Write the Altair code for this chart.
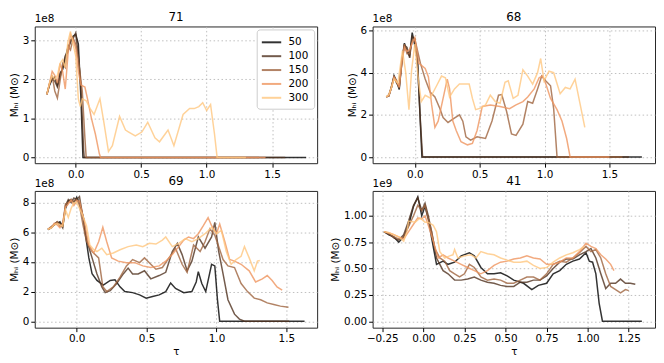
import altair as alt
import pandas as pd

SERIES = ["50", "100", "150", "200", "300"]
COLORS = ["#000000", "#50321f", "#9f643f", "#ef955f", "#ffc77f"]

# ---------------- panel 71 (units of 1e8) ----------------
E = [-0.22, -0.2, -0.18, -0.16, -0.14, -0.12, -0.1, -0.08, -0.06, -0.04, -0.02, 0.0]
t71_50 = E + [0.02, 0.04, 0.055, 1.76]
m71_50 = [1.62, 1.85, 2.0, 2.05, 1.85, 2.15, 2.25, 2.55, 2.8, 2.95, 3.1, 3.15, 2.9, 1.5, 0, 0]
t71_100 = E + [0.02, 0.04, 0.06, 0.065, 1.6]
m71_100 = [1.62, 1.88, 2.0, 1.95, 1.8, 2.05, 2.3, 2.6, 2.7, 3.0, 3.05, 3.18, 2.6, 1.8, 0.2, 0, 0]
t71_150 = E + [0.02, 0.05, 0.07, 0.08, 1.4]
m71_150 = [1.6, 1.9, 2.1, 1.7, 1.52, 1.95, 2.4, 2.3, 2.85, 2.75, 3.05, 2.9, 2.5, 1.7, 0.5, 0, 0]
t71_200 = E + [0.02, 0.04, 0.07, 0.09, 0.12, 0.15, 0.18, 0.19, 1.45]
m71_200 = [1.62, 1.9, 2.2, 2.1, 1.9, 2.4, 2.2, 1.75, 2.6, 3.15, 3.0, 2.8,
           2.2, 1.85, 1.8, 1.5, 1.0, 0.6, 0.1, 0, 0]
t71_300 = E + [0.02, 0.035, 0.05, 0.08, 0.11, 0.14, 0.185, 0.215, 0.25, 0.28,
               0.335, 0.38, 0.405, 0.455, 0.505, 0.55, 0.605, 0.64, 0.705, 0.75,
               0.82, 0.87, 0.905, 0.94, 0.97, 1.0, 1.03, 1.06, 1.08, 1.3]
m71_300 = [1.62, 1.9, 2.1, 2.0, 2.1, 2.4, 2.5, 2.3, 2.95, 3.22, 2.9, 2.6,
           1.5, 1.3, 1.5, 1.45, 1.25, 1.1, 1.5, 0.9, 0.15, 0.3,
           1.05, 0.7, 0.65, 0.55, 0.65, 0.9, 0.5, 0.4, 0.7, 0.3,
           1.1, 1.25, 1.25, 1.3, 1.4, 1.2, 1.35, 0.6, 0, 0]

# ---------------- panel 68 (units of 1e8) ----------------
t68_50 = E + [0.02, 0.04, 0.055, 1.75]
m68_50 = [2.85, 2.9, 3.3, 3.85, 3.6, 3.2, 4.5, 5.4, 5.0, 4.8, 5.9, 5.3, 4.8, 2.0, 0, 0]
t68_100 = E + [0.02, 0.045, 0.06, 1.65]
m68_100 = [2.85, 2.9, 3.35, 3.8, 3.5, 3.3, 4.6, 5.3, 5.2, 4.7, 5.7, 5.6, 4.5, 1.5, 0, 0]
t68_150 = E + [0.043, 0.08, 0.118, 0.155, 0.193, 0.218, 0.256, 0.293, 0.344, 0.37,
               0.394, 0.43, 0.48, 0.545, 0.595, 0.645, 0.67, 0.707, 0.745, 0.78,
               0.833, 0.87, 0.908, 0.946, 0.978, 1.01, 1.046, 1.07, 1.096, 1.6]
m68_150 = [2.85, 2.95, 3.3, 3.75, 3.55, 3.4, 4.4, 5.35, 4.9, 4.9, 5.5, 5.6,
           4.45, 3.7, 3.08, 2.85, 2.3, 1.87, 1.64, 1.8, 2.0, 1.7,
           0.96, 0.8, 0.96, 0.88, 1.71, 2.93, 2.96, 2.17, 1.1, 1.03,
           1.56, 2.63, 2.55, 3.23, 3.84, 3.61, 3.38, 2.3, 0, 0]
t68_200 = E + [0.03, 0.08, 0.105, 0.13, 0.155, 0.18, 0.218, 0.25, 0.268, 0.293,
               0.319, 0.356, 0.406, 0.444, 0.48, 0.52, 0.582, 0.657, 0.73, 0.78,
               0.833, 0.87, 0.92, 0.958, 0.983, 1.01, 1.046, 1.096, 1.134, 1.17,
               1.197, 1.5]
m68_200 = [2.85, 2.9, 3.3, 3.8, 3.6, 3.3, 4.5, 5.2, 5.0, 5.1, 5.4, 5.66,
           4.45, 4.2, 3.8, 2.47, 1.41, 1.7, 2.78, 3.69, 3.23, 1.71,
           1.26, 0.73, 0.58, 0.65, 1.26, 2.4, 2.47, 2.4, 2.29, 2.47,
           2.63, 2.85, 3.23, 3.76, 3.84, 3.46, 2.78, 2.25, 1.71, 0.88,
           0, 0]
t68_300 = [-0.22, -0.2, -0.18, -0.16, -0.13, -0.095, -0.07, -0.045, -0.025, 0.0,
           0.03, 0.05, 0.08, 0.118, 0.168, 0.206, 0.236, 0.268, 0.306, 0.344,
           0.419, 0.444, 0.469, 0.507, 0.545, 0.582, 0.62, 0.657, 0.695, 0.72,
           0.758, 0.795, 0.833, 0.87, 0.908, 0.946, 0.97, 0.996, 1.034, 1.07,
           1.12, 1.16, 1.197, 1.235, 1.27, 1.31]
m68_300 = [2.85, 2.95, 3.3, 3.7, 3.5, 5.05, 4.0, 2.25, 4.1, 5.36,
           3.54, 2.63, 2.93, 2.8, 3.38, 3.84, 3.76, 2.85, 3.23, 3.46,
           3.46, 2.78, 2.25, 2.32, 2.47, 2.93, 2.63, 2.55, 3.54, 3.61,
           2.78, 2.93, 4.14, 3.84, 3.46, 4.0, 4.67, 3.61, 4.07, 4.0,
           3.0, 3.3, 3.23, 3.69, 2.63, 1.41]

# ---------------- panel 69 (units of 1e8) ----------------
E69 = [-0.206, -0.18, -0.16, -0.14, -0.12, -0.1, -0.08, -0.06, -0.04, -0.02, 0.0, 0.02]
t69_50 = E69 + [0.05, 0.063, 0.087, 0.11, 0.145, 0.19, 0.24, 0.274, 0.31, 0.344,
                0.4, 0.45, 0.497, 0.543, 0.59, 0.637, 0.672, 0.707, 0.766, 0.824,
                0.855, 0.87, 0.895, 0.923, 0.965, 0.988, 1.007, 1.023, 1.63]
m69_50 = [6.18, 6.3, 6.5, 6.6, 6.7, 6.4, 7.6, 8.1, 8.2, 8.0, 8.35, 8.0,
          6.9, 5.8, 4.27, 3.2, 2.75, 2.43, 2.75, 2.8, 2.32, 2.0,
          1.93, 1.78, 1.56, 1.67, 1.78, 2.0, 2.58, 2.21, 1.93, 2.0,
          2.65, 3.34, 2.54, 2.0, 3.84, 3.73, 1.45, 0, 0]
t69_100 = E69 + [0.05, 0.075, 0.11, 0.145, 0.18, 0.204, 0.24, 0.286, 0.333, 0.368,
                 0.4, 0.44, 0.485, 0.53, 0.59, 0.637, 0.684, 0.72, 0.754, 0.79,
                 0.824, 0.87, 0.918, 0.965, 0.988, 1.016, 1.047, 1.082, 1.129, 1.164,
                 1.2, 1.52]
m69_100 = [6.18, 6.35, 6.55, 6.7, 6.6, 6.3, 7.8, 8.2, 8.0, 8.3, 8.2, 8.4,
           6.7, 5.36, 4.27, 3.19, 2.32, 1.93, 2.06, 2.54, 3.19, 3.58,
           3.19, 3.19, 3.4, 2.86, 3.08, 3.3, 4.7, 5.25, 4.49, 3.4,
           4.05, 5.68, 4.92, 5.68, 6.66, 4.7, 3.19, 1.45, 0.48, 0.15,
           0, 0]
t69_150 = E69 + [0.045, 0.07, 0.11, 0.157, 0.187, 0.215, 0.262, 0.31, 0.356, 0.4,
                 0.45, 0.485, 0.53, 0.567, 0.613, 0.66, 0.707, 0.754, 0.79, 0.836,
                 0.883, 0.918, 0.953, 0.988, 1.012, 1.047, 1.082, 1.129, 1.176, 1.222,
                 1.27, 1.316, 1.363, 1.41, 1.457, 1.515]
m69_150 = [6.2, 6.4, 6.5, 6.7, 6.4, 6.5, 7.9, 8.0, 8.1, 8.1, 8.2, 7.8,
           6.5, 5.4, 4.7, 4.27, 2.32, 2.0, 2.32, 2.97, 3.73, 4.16,
           3.95, 4.27, 3.84, 3.51, 3.62, 4.27, 4.92, 3.84, 3.3, 5.14,
           4.7, 5.36, 6.23, 5.79, 5.14, 4.16, 3.73, 3.62, 2.54, 2.0,
           1.56, 1.45, 1.24, 1.13, 1.02, 0.95]
t69_200 = E69 + [0.05, 0.087, 0.122, 0.157, 0.187, 0.215, 0.25, 0.297, 0.356, 0.415,
                 0.473, 0.53, 0.59, 0.637, 0.684, 0.73, 0.766, 0.8, 0.836, 0.87,
                 0.906, 0.94, 0.965, 1.0, 1.023, 1.06, 1.094, 1.129, 1.176, 1.234,
                 1.28, 1.328, 1.363, 1.398, 1.433, 1.47]
m69_200 = [6.2, 6.3, 6.6, 6.5, 6.3, 6.6, 7.7, 7.9, 8.2, 7.8, 8.1, 8.1,
           6.9, 5.14, 4.6, 5.36, 6.33, 5.36, 4.27, 4.05, 3.95, 3.95,
           3.73, 3.62, 3.73, 4.05, 4.49, 5.03, 5.47, 5.68, 5.57, 5.9,
           6.44, 6.98, 6.44, 5.9, 6.55, 5.36, 4.16, 4.05, 3.84, 3.4,
           2.65, 2.86, 3.08, 2.75, 2.32, 2.1]
t69_300 = E69 + [0.04, 0.07, 0.094, 0.122, 0.145, 0.18, 0.215, 0.262, 0.31, 0.368,
                 0.426, 0.473, 0.52, 0.567, 0.613, 0.637, 0.684, 0.73, 0.777, 0.824,
                 0.87, 0.918, 0.965, 1.0, 1.035, 1.07, 1.105, 1.14, 1.176, 1.2,
                 1.234, 1.27, 1.293, 1.31]
m69_300 = [6.2, 6.3, 6.5, 6.6, 6.5, 6.4, 7.5, 7.0, 7.6, 8.0, 8.0, 7.6,
           7.2, 6.44, 5.14, 4.82, 4.7, 4.92, 4.49, 4.6, 4.82, 5.03,
           5.14, 5.03, 5.25, 5.2, 5.47, 5.68, 5.03, 5.25, 5.57, 5.36,
           5.57, 5.9, 6.33, 5.9, 6.12, 4.7, 3.84, 4.16, 4.38, 5.03,
           4.27, 3.4, 4.05, 4.1]

# ---------------- panel 41 (units of 1e9) ----------------
E41 = [-0.24, -0.21, -0.18, -0.15, -0.12, -0.09, -0.06, -0.034, -0.01, 0.01, 0.03]
t41_50 = E41 + [0.05, 0.08, 0.12, 0.15, 0.19, 0.23, 0.28, 0.31, 0.35, 0.39,
                0.43, 0.47, 0.51, 0.55, 0.61, 0.66, 0.7, 0.75, 0.79, 0.83,
                0.87, 0.91, 0.95, 0.99, 1.01, 1.03, 1.05, 1.07, 1.09, 1.33]
m41_50 = [0.85, 0.82, 0.8, 0.75, 0.8, 0.91, 1.09, 1.18, 1.0, 1.09, 0.97,
          0.79, 0.54, 0.57, 0.54, 0.56, 0.62, 0.65, 0.62, 0.51, 0.45,
          0.45, 0.46, 0.43, 0.39, 0.36, 0.3, 0.34, 0.36, 0.45, 0.48,
          0.54, 0.57, 0.59, 0.65, 0.57, 0.56, 0.45, 0.17, 0, 0]
t41_100 = E41 + [0.05, 0.08, 0.12, 0.15, 0.19, 0.23, 0.27, 0.31, 0.35, 0.39,
                 0.43, 0.47, 0.51, 0.55, 0.59, 0.63, 0.67, 0.71, 0.75, 0.79,
                 0.83, 0.87, 0.91, 0.95, 0.99, 1.02, 1.05, 1.08, 1.11, 1.14,
                 1.17, 1.2, 1.23, 1.26, 1.29]
m41_100 = [0.85, 0.83, 0.79, 0.77, 0.82, 0.95, 1.1, 1.17, 1.05, 1.12, 1.0,
           0.85, 0.6, 0.48, 0.45, 0.39, 0.39, 0.4, 0.42, 0.39, 0.37,
           0.36, 0.34, 0.33, 0.33, 0.37, 0.37, 0.39, 0.39, 0.43, 0.5,
           0.56, 0.59, 0.59, 0.63, 0.66, 0.69, 0.6, 0.45, 0.31, 0.36,
           0.36, 0.4, 0.36, 0.36, 0.35]
t41_150 = E41 + [0.05, 0.07, 0.1, 0.13, 0.16, 0.19, 0.22, 0.25, 0.28, 0.31,
                 0.35, 0.39, 0.43, 0.47, 0.51, 0.55, 0.59, 0.63, 0.67, 0.71,
                 0.75, 0.79, 0.83, 0.87, 0.91, 0.95, 0.99, 1.02, 1.05, 1.08,
                 1.11, 1.14, 1.17, 1.2, 1.23, 1.25]
m41_150 = [0.85, 0.83, 0.8, 0.78, 0.8, 0.9, 1.0, 1.1, 1.05, 1.1, 0.97,
           0.85, 0.69, 0.6, 0.57, 0.48, 0.45, 0.42, 0.45, 0.54, 0.51,
           0.42, 0.39, 0.4, 0.39, 0.36, 0.36, 0.39, 0.42, 0.42, 0.39,
           0.45, 0.54, 0.57, 0.56, 0.6, 0.65, 0.71, 0.66, 0.68, 0.6,
           0.45, 0.33, 0.3, 0.27, 0.3, 0.29]
t41_200 = E41 + [0.06, 0.09, 0.12, 0.15, 0.19, 0.23, 0.27, 0.31, 0.35, 0.39,
                 0.43, 0.47, 0.51, 0.55, 0.59, 0.63, 0.67, 0.71, 0.75, 0.79,
                 0.83, 0.87, 0.91, 0.95, 0.99, 1.02, 1.05, 1.08, 1.11, 1.14,
                 1.16]
m41_200 = [0.85, 0.84, 0.82, 0.8, 0.78, 0.85, 0.92, 0.98, 0.97, 1.0, 0.91,
           0.76, 0.6, 0.63, 0.6, 0.57, 0.54, 0.51, 0.48, 0.45, 0.48,
           0.53, 0.56, 0.57, 0.59, 0.6, 0.62, 0.6, 0.59, 0.54, 0.54,
           0.56, 0.6, 0.6, 0.66, 0.74, 0.71, 0.69, 0.63, 0.59, 0.54,
           0.48]
t41_300 = [-0.24, -0.21, -0.18, -0.15, -0.12, -0.1, -0.09, -0.05, -0.02, 0.01,
           0.03, 0.06, 0.08, 0.1, 0.13, 0.16, 0.18, 0.19, 0.21, 0.25,
           0.29, 0.32, 0.35, 0.39, 0.43, 0.47, 0.51, 0.55, 0.59, 0.63,
           0.67, 0.71, 0.75, 0.79, 0.83, 0.87, 0.91, 0.95, 0.98]
m41_300 = [0.85, 0.84, 0.82, 0.8, 0.76, 0.85, 0.95, 0.94, 0.98, 0.94,
           0.94, 0.91, 0.85, 0.66, 0.6, 0.62, 0.63, 0.68, 0.6, 0.62,
           0.63, 0.6, 0.66, 0.64, 0.63, 0.6, 0.58, 0.56, 0.56, 0.57,
           0.53, 0.5, 0.51, 0.56, 0.6, 0.63, 0.65, 0.68, 0.71]

FONT = "DejaVu Sans"
W, H = 285, 138


def make_df(ts, ms):
    rows = []
    for s, t, m in zip(SERIES, ts, ms):
        for a, b in zip(t, m):
            rows.append({"tau": a, "m": b, "n": s})
    return pd.DataFrame(rows)


def panel(df, title, xdom, ydom, xticks, yticks, xfmt, yfmt, exp, xtitle, legend):
    color = alt.Color("n:N", scale=alt.Scale(domain=SERIES, range=COLORS), legend=legend)
    if xtitle:
        xaxis = alt.Axis(values=xticks, format=xfmt, labelFlush=False, labelOverlap=False,
                         title="τ")
    else:
        xaxis = alt.Axis(values=xticks, format=xfmt, labelFlush=False, labelOverlap=False,
                         title=None)
    lines = alt.Chart(df).mark_line(strokeWidth=1.5, opacity=0.8).encode(
        x=alt.X("tau:Q", scale=alt.Scale(domain=xdom, nice=False, zero=False), axis=xaxis),
        y=alt.Y("m:Q", scale=alt.Scale(domain=ydom, nice=False, zero=False),
                axis=alt.Axis(values=yticks, format=yfmt, labelFlush=False,
                              labelOverlap=False, title="Mₕᵢ (M⊙)")),
        color=color,
    )
    ann = pd.DataFrame({"e": [exp], "ttl": [title]})
    exp_txt = alt.Chart(ann).mark_text(
        align="left", baseline="bottom", fontSize=10.5, font=FONT, color="black"
    ).encode(text="e:N", x=alt.value(0), y=alt.value(-2))
    ttl_txt = alt.Chart(ann).mark_text(
        align="center", baseline="bottom", fontSize=12, font=FONT, color="black"
    ).encode(text="ttl:N", x=alt.value(W / 2), y=alt.value(-3))
    return alt.layer(lines, exp_txt, ttl_txt).properties(width=W, height=H)


leg = alt.Legend(orient="top-right", title=None, offset=3, fillColor="white",
                 strokeColor="#cccccc", cornerRadius=3, padding=5,
                 symbolType="M-1.2,0H1.8", symbolSize=170, symbolStrokeWidth=2,
                 symbolOpacity=0.8, labelFontSize=10.5, labelFont=FONT,
                 labelOffset=11, rowPadding=0, labelColor="black")

p71 = panel(make_df([t71_50, t71_100, t71_150, t71_200, t71_300],
                    [m71_50, m71_100, m71_150, m71_200, m71_300]),
            "71", [-0.313, 1.844], [-0.147, 3.35], [0, 0.5, 1.0, 1.5], [0, 1, 2, 3],
            ".1f", "d", "1e8", False, leg)
p68 = panel(make_df([t68_50, t68_100, t68_150, t68_200, t68_300],
                    [m68_50, m68_100, m68_150, m68_200, m68_300]),
            "68", [-0.325, 1.851], [-0.29, 6.19], [0, 0.5, 1.0, 1.5], [0, 2, 4, 6],
            ".1f", "d", "1e8", False, None)
p69 = panel(make_df([t69_50, t69_100, t69_150, t69_200, t69_300],
                    [m69_50, m69_100, m69_150, m69_200, m69_300]),
            "69", [-0.30, 1.72], [-0.43, 8.78], [0, 0.5, 1.0, 1.5], [0, 2, 4, 6, 8],
            ".1f", "d", "1e8", True, None)
p41 = panel(make_df([t41_50, t41_100, t41_150, t41_200, t41_300],
                    [m41_50, m41_100, m41_150, m41_200, m41_300]),
            "41", [-0.309, 1.41], [-0.061, 1.236],
            [-0.25, 0, 0.25, 0.5, 0.75, 1.0, 1.25], [0, 0.25, 0.5, 0.75, 1.0],
            ".2f", ".2f", "1e9", True, None)

chart = alt.concat(
    p71, p68, p69, p41, columns=2,
    spacing=alt.RowColnumber(row=28, column=56), bounds="flush",
).resolve_legend(color="independent").properties(
    padding={"left": 0, "top": 0, "right": 0, "bottom": 0}
).configure_view(
    stroke="#262626", strokeWidth=1
).configure_axis(
    grid=True, gridColor="#b8b8b8", gridDash=[1.5, 2.5], gridWidth=0.9,
    domain=False, tickColor="black", tickSize=4, labelPadding=2,
    labelFont=FONT, labelFontSize=10.5, labelColor="black",
    titleFont=FONT, titleFontSize=10.5, titleColor="black",
    titleFontWeight="normal", titlePadding=3,
)

chart.save("out.html", embed_options={"renderer": "svg", "actions": False})
